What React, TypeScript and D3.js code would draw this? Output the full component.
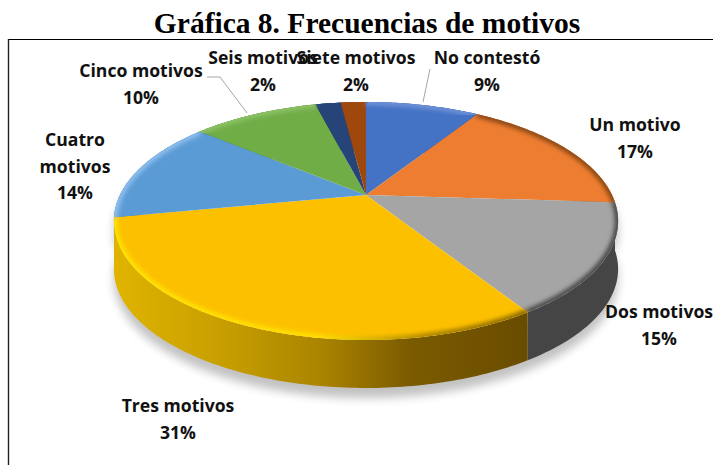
import React from "react";
import * as d3 from "d3";

const categories = ["No contestó", "Un motivo", "Dos motivos", "Tres motivos", "Cuatro motivos", "Cinco motivos", "Seis motivos", "Siete motivos"];
const values = [9, 17, 15, 31, 14, 10, 2, 2];
const colors = ["#4472c4", "#ed7d31", "#a5a5a5", "#fdc000", "#5b9bd5", "#70ad47", "#264478", "#9e480e"];
const sideColors = ["#2f5597", "#a85a20", "#454545", "url(#ySide)", "#3f75a8", "#4f7a32", "#1a2f55", "#6d320a"];
const edgeColors = ["#6f92d8", "#8a4a18", "#4a4a4a", "url(#yEdge)", "#8fc0ee", "#8cc266", "#264478", "#9e480e"];
const labelLines = [["No contestó"], ["Un motivo"], ["Dos motivos"], ["Tres motivos"], ["Cuatro", "motivos"], ["Cinco motivos"], ["Seis motivos"], ["Siete motivos"]];
const labelAnchors: [number, number][] = [[487, 64], [635, 131], [659, 318], [178, 412], [75, 146], [141, 77], [263, 64], [356, 64]];
const leaders: [number, number][][] = [[[430, 69], [423, 102]], [[207, 77], [220, 77], [247, 113]]];

const cx = 366, cy = 195, R = 246, H = 113.3, K = 0.2185, depth = 48;

const project = (a: number): [number, number] => {
  const u = Math.sin(a), v = Math.cos(a), s = 1 / (1 + K * v);
  return [cx + R * u * s, cy - H * v * s];
};
const arcPoints = (a0: number, a1: number) => {
  const n = Math.max(4, Math.ceil((a1 - a0) * 60));
  return d3.range(n + 1).map((i) => project(a0 + ((a1 - a0) * i) / n));
};
const line = d3.line();

export default function App() {
  const arcs = d3.pie<number>().sort(null).startAngle(0).endAngle(2 * Math.PI)(values);
  const top = arcs.map((d) => ({
    i: d.index,
    pts: arcPoints(d.startAngle, d.endAngle),
    mid: (d.startAngle + d.endAngle) / 2,
  }));
  const full = arcPoints(0, 2 * Math.PI);
  const shiftDown = (p: [number, number][]) => p.map(([x, y]) => [x, y + depth] as [number, number]);
  const band = (p: [number, number][]) => line([...p, ...shiftDown(p).reverse()]) + "Z";
  const order = [...top].sort((a, b) => project(a.mid)[1] - project(b.mid)[1]);

  return (
    <svg width={713} height={465} style={{ position: "absolute", left: 0, top: 0, background: "#fff" }}>
      <defs>
        <linearGradient id="ySide" gradientUnits="userSpaceOnUse" x1={113} x2={525} y1={0} y2={0}>
          <stop offset="0" stopColor="#e0b400" />
          <stop offset="0.25" stopColor="#c9a000" />
          <stop offset="0.5" stopColor="#ab8500" />
          <stop offset="0.72" stopColor="#7b5b00" />
          <stop offset="1" stopColor="#6a4c00" />
        </linearGradient>
        <linearGradient id="yEdge" gradientUnits="userSpaceOnUse" x1={113} x2={525} y1={0} y2={0}>
          <stop offset="0" stopColor="#ffe400" />
          <stop offset="0.5" stopColor="#ffe000" />
          <stop offset="0.75" stopColor="#b08800" />
          <stop offset="1" stopColor="#8a6800" />
        </linearGradient>
        <filter id="blurS" x="-20%" y="-20%" width="140%" height="140%"><feGaussianBlur stdDeviation="5" /></filter>
        <filter id="blurE" x="-5%" y="-5%" width="110%" height="110%"><feGaussianBlur stdDeviation="2.2" /></filter>
        <clipPath id="topClip"><path d={line(full) + "Z"} /></clipPath>
      </defs>

      <line x1={8} x2={713} y1={39.5} y2={39.5} stroke="#000" strokeWidth={1.2} />
      <line x1={8.5} x2={8.5} y1={39} y2={465} stroke="#222" strokeWidth={1.4} />

      <text x={367} y={33} textAnchor="middle" fontFamily="'Liberation Serif'" fontWeight="bold" fontSize={29.5} fill="#000">
        Gráfica 8. Frecuencias de motivos
      </text>

      <path d={band(full)} transform="translate(0,10)" fill="#000" opacity={0.24} filter="url(#blurS)" />

      {order.map((t) => (
        <path key={"s" + t.i} d={band(t.pts)} fill={sideColors[t.i]} />
      ))}
      {top.map((t) => (
        <path key={"t" + t.i} d={line([[cx, cy], ...t.pts]) + "Z"} fill={colors[t.i]} />
      ))}
      <g clipPath="url(#topClip)">
        {top.map((t) => (
          <path key={"e" + t.i} d={line(t.pts) as string} fill="none" stroke={edgeColors[t.i]} strokeWidth={7} filter="url(#blurE)" />
        ))}
      </g>

      {leaders.map((l, i) => (
        <path key={i} d={line(l) as string} fill="none" stroke="#a6a6a6" strokeWidth={1} />
      ))}

      <g fontFamily="'Open Sans'" fontWeight="bold" fontSize={17.6} fill="#111" textAnchor="middle">
        {categories.map((c, i) => {
          const [x, y] = labelAnchors[i];
          const lines = [...labelLines[i], `${values[i]}%`];
          return (
            <text key={c} x={x} y={y}>
              {lines.map((s, j) => (
                <tspan key={j} x={x} dy={j === 0 ? 0 : 26.5}>{s}</tspan>
              ))}
            </text>
          );
        })}
      </g>
    </svg>
  );
}
